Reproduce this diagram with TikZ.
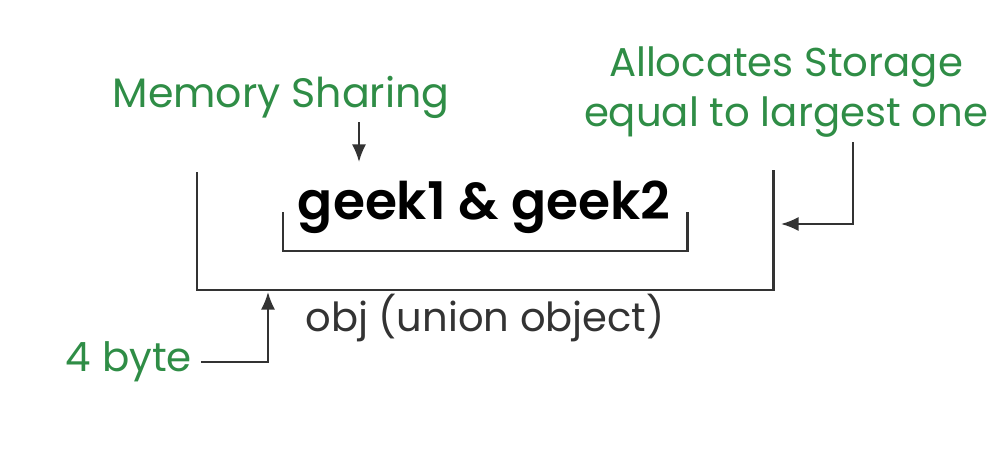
\documentclass[tikz,border=0pt]{standalone}
\usepackage{fontspec}
\setmainfont{Poppins}
\newfontfamily\semibold{Poppins SemiBold}
\usepackage{xcolor}
\usetikzlibrary{positioning,calc,arrows.meta}

\definecolor{geekgreen}{HTML}{2F8D46}
\definecolor{linegray}{HTML}{333333}

\tikzset{
    note/.style={text=geekgreen, font=\fontsize{23}{27}\selectfont, inner sep=0pt, align=center},
    bracket/.style={draw=linegray, line width=1.7pt},
    pointer/.style={draw=linegray, line width=1.1pt, -{Latex[length=10pt,width=8pt]}}
}

\begin{document}
\begin{tikzpicture}[x=0.02cm, y=-0.02cm]
    \useasboundingbox (0,0) rectangle (1000,470);

    % Brackets
    \draw[bracket] (197,172) -- (197,290) -- (773,290) -- (773,170);
    \draw[bracket] (283,212) -- (283,251) -- (687,251) -- (687,212);

    % Labels
    \node[note, font=\fontsize{23.4}{27}\selectfont] (share) at (281,97) {Memory Sharing};
    \node[font=\semibold\fontsize{29.5}{34}\selectfont, inner sep=0pt] (geeks) at (484,207) {geek1 \& geek2};
    \node[note, font=\fontsize{22.9}{28}\selectfont] (alloc) at (786,92) {Allocates Storage\\equal to largest one};
    \node[text=linegray, font=\fontsize{22.8}{25}\selectfont, inner sep=0pt] (obj) at (485,318) {obj (union object)};
    \node[note] (bytes) at (129,362) {4 byte};

    % Arrows
    \coordinate (shareTip) at (359,162);
    \coordinate (allocTip) at (781,224);
    \coordinate (bytesTip) at (268,292);
    \draw[pointer] (359,122) -- (shareTip);
    \draw[pointer] (853,142) |- (allocTip);
    \draw[pointer] (bytes.east) ++(5pt,0) -| (bytesTip);
\end{tikzpicture}
\end{document}
